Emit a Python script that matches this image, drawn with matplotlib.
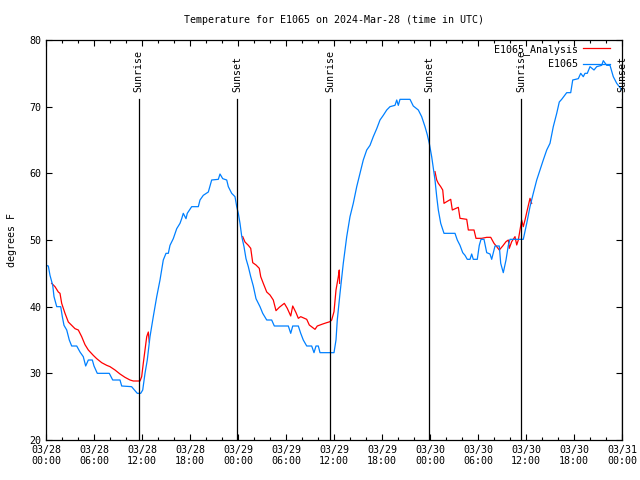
import numpy as np
import matplotlib
matplotlib.use("Agg")
import matplotlib.pyplot as plt
from matplotlib.ticker import MultipleLocator

plt.rcParams['font.family'] = ['DejaVu Sans Mono']

title = "Temperature for E1065 on 2024-Mar-28 (time in UTC)"
ylabel = "degrees F"

# hours since 2024-03-28 00:00 UTC
obs_hours = [0.0, 0.29, 0.5, 0.84, 1.0, 1.34, 1.84, 2.04, 2.25, 2.59,
             2.91, 3.21, 3.84, 4.25, 4.66, 4.96, 5.29, 5.79, 6.0, 6.41,
             7.91, 8.34, 9.25, 9.46, 10.7, 11.41, 11.84, 12.09, 12.375, 12.66,
             13.0, 13.41, 13.84, 14.25, 14.66, 15.0, 15.29, 15.5, 15.91, 16.34,
             16.75, 16.96, 17.16, 17.5, 17.66, 18.21, 19.04, 19.25, 19.66, 20.29,
             20.71, 21.54, 21.75, 22.09, 22.59, 22.79, 23.21, 23.625, 23.84, 24.04,
             24.25, 24.46, 24.75, 25.0, 25.29, 25.59, 25.91, 26.25, 26.75, 27.09,
             27.59, 28.21, 28.54, 30.29, 30.59, 30.84, 31.54, 31.84, 32.16, 32.59,
             33.21, 33.5, 33.75, 34.04, 34.25, 36.0, 36.25, 36.41, 36.75, 37.16,
             37.59, 38.0, 38.41, 38.84, 39.25, 39.66, 40.09, 40.5, 40.91, 41.34,
             41.75, 42.16, 42.59, 43.0, 43.625, 43.84, 44.04, 44.25, 45.5, 45.91,
             46.54, 46.96, 47.375, 47.66, 47.91, 48.21, 48.625, 48.84, 49.04, 49.34,
             49.75, 51.125, 51.41, 51.75, 52.09, 52.375, 52.66, 53.0, 53.21, 53.41,
             53.91, 54.16, 54.375, 54.75, 55.09, 55.5, 55.71, 56.125, 56.66, 56.84,
             57.16, 57.5, 57.79, 58.0, 59.66, 60.09, 60.5, 60.91, 61.34, 61.75,
             62.16, 62.59, 63.0, 63.41, 63.84, 64.16, 64.46, 65.09, 65.59, 65.84,
             66.54, 66.84, 67.16, 67.375, 67.66, 68.0, 68.5, 68.84, 69.46, 69.66,
             70.09, 70.5, 70.91, 71.34, 71.66, 72.0]
obs_temp = [46.2, 46.1, 44.7, 43.2, 41.5, 40.0, 40.0, 38.5, 37.2, 36.5,
            35.0, 34.1, 34.1, 33.2, 32.5, 31.1, 32.0, 32.0, 31.1, 30.0,
            30.0, 29.0, 29.0, 28.1, 28.0, 27.0, 27.0, 27.5, 30.0, 32.0,
            35.5, 38.5, 41.5, 44.0, 47.0, 48.0, 48.0, 49.2, 50.2, 51.7,
            52.5, 53.2, 54.0, 53.2, 54.0, 55.0, 55.0, 56.0, 56.7, 57.2,
            59.0, 59.1, 59.9, 59.2, 59.0, 58.0, 57.0, 56.5, 55.0, 54.0,
            52.5, 50.6, 49.0, 47.2, 46.0, 44.5, 43.1, 41.2, 40.0, 39.0,
            38.0, 38.0, 37.1, 37.1, 36.0, 37.1, 37.1, 36.0, 35.0, 34.1,
            34.1, 33.1, 34.1, 34.1, 33.1, 33.1, 35.0, 38.0, 42.0, 46.5,
            50.5, 53.5, 55.5, 58.0, 60.0, 62.0, 63.5, 64.2, 65.5, 66.7,
            68.0, 68.7, 69.5, 70.0, 70.2, 71.0, 70.2, 71.1, 71.1, 70.1,
            69.5, 68.5, 67.0, 65.8, 64.5, 62.5, 59.0, 56.5, 54.5, 52.5,
            51.0, 51.0, 50.0, 49.2, 48.1, 47.7, 47.1, 47.1, 47.9, 47.1,
            47.1, 49.2, 50.1, 50.1, 48.1, 47.9, 47.1, 49.1, 49.1, 46.5,
            45.1, 47.0, 49.2, 50.1, 50.1, 52.5, 55.0, 57.0, 59.0, 60.5,
            62.0, 63.5, 64.5, 67.0, 69.0, 70.7, 71.1, 72.1, 72.1, 74.0,
            74.2, 75.0, 74.5, 75.0, 75.0, 76.0, 75.5, 76.0, 76.2, 76.9,
            76.2, 76.2, 74.5, 73.5, 73.0, 72.5]

nan = float('nan')
ana_hours = [0.71, 1.125, 1.54, 1.75, 1.96, 2.375, 2.79, 3.21, 3.625, 4.04,
             4.46, 4.875, 5.29, 5.91, 6.34, 6.96, 7.59, 8.0, 8.625, 9.25,
             9.875, 10.5, 10.91, 11.75, 11.96, 12.16, 12.375, 12.59, 12.79, 12.91,
             18.0,
             24.59, 24.875, 25.29, 25.59, 25.84, 26.25, 26.66, 26.84, 27.16, 27.59,
             28.0, 28.41, 28.75, 29.16, 29.79, 30.16, 30.59, 30.84, 31.25, 31.54,
             31.84, 32.59, 32.91, 33.625, 33.91, 34.59, 35.09, 35.5, 35.71, 36.0,
             36.25, 36.54, 36.66, 36.7,
             42.0,
             48.625, 48.84, 49.04, 49.34, 49.59, 49.75, 50.09, 50.59, 50.79, 51.25,
             51.54, 51.75, 52.59, 52.79, 53.5, 53.75, 54.46, 55.09, 55.59, 56.0,
             56.34, 56.66, 57.09, 57.5, 57.79, 57.91, 58.21, 58.625, 58.84, 59.04,
             59.25, 59.46, 59.66, 59.875, 60.16, 60.5, 60.71]
ana_temp = [43.5, 43.0, 42.2, 42.0, 40.5, 39.0, 37.7, 37.2, 36.7, 36.5,
            35.5, 34.3, 33.5, 32.7, 32.2, 31.6, 31.2, 31.0, 30.5, 29.9,
            29.4, 29.0, 28.85, 28.85, 29.5, 31.5, 33.5, 35.5, 36.2, 34.7,
            nan,
            50.5, 49.7, 49.2, 48.75, 46.6, 46.25, 45.75, 44.5, 43.5, 42.2,
            41.75, 41.0, 39.4, 39.9, 40.5, 39.75, 38.6, 40.1, 39.1, 38.25,
            38.5, 38.1, 37.25, 36.6, 37.1, 37.4, 37.6, 37.75, 38.0, 39.25,
            42.5, 44.5, 45.5, 43.5,
            nan,
            60.25, 59.0, 58.5, 58.0, 57.5, 55.5, 55.75, 56.1, 54.5, 54.75,
            54.9, 53.25, 53.1, 51.5, 51.5, 50.25, 50.25, 50.4, 50.4, 49.5,
            49.0, 48.5, 49.1, 49.75, 50.0, 48.75, 49.75, 50.5, 49.25, 50.0,
            51.5, 53.0, 52.0, 53.0, 54.5, 56.25, 55.5]

sun_hours = [11.6, 23.9, 35.5, 47.9, 59.4, 72.0]
sun_labels = ["Sunrise", "Sunset", "Sunrise", "Sunset", "Sunrise", "Sunset"]

tick_hours = [0, 6, 12, 18, 24, 30, 36, 42, 48, 54, 60, 66, 72]
tick_labels = ["03/28\n00:00", "03/28\n06:00", "03/28\n12:00", "03/28\n18:00",
               "03/29\n00:00", "03/29\n06:00", "03/29\n12:00", "03/29\n18:00",
               "03/30\n00:00", "03/30\n06:00", "03/30\n12:00", "03/30\n18:00",
               "03/31\n00:00"]

fig = plt.figure(figsize=(6.4, 4.8), dpi=100)
ax = fig.add_axes([46/640, 1-440/480, 576/640, 400/480])

ax.plot(ana_hours, ana_temp, color='#ff0000', lw=0.9, label='E1065_Analysis')
ax.plot(obs_hours, obs_temp, color='#0080ff', lw=0.9, label='E1065')

for h, lab in zip(sun_hours, sun_labels):
    ax.plot([h, h], [20, 71.2], color='black', lw=0.9)
    ax.text(h, 72.2, lab, rotation=90, ha='center', va='bottom', fontsize=7.2)

ax.set_xlim(0, 72)
ax.set_ylim(20, 80)
ax.set_xticks(tick_hours)
ax.set_xticklabels(tick_labels)
ax.xaxis.set_minor_locator(MultipleLocator(2))
ax.yaxis.set_major_locator(MultipleLocator(10))
ax.tick_params(which='both', direction='in', top=True, right=True, labelsize=7.2)
ax.tick_params(which='major', length=4, width=0.8)
ax.tick_params(which='minor', length=2.5, width=0.8)
for s in ax.spines.values():
    s.set_linewidth(0.9)

ax.set_title(title, fontsize=7.2, pad=12)
ax.set_ylabel(ylabel, fontsize=7.2, labelpad=9)

ax.legend(loc='upper right', bbox_to_anchor=(0.979, 0.99), frameon=False,
          markerfirst=False, fontsize=7.2, handlelength=2.7, borderpad=0,
          borderaxespad=0, labelspacing=0.45, handletextpad=0.5)

fig.savefig("out.png", dpi=100)
